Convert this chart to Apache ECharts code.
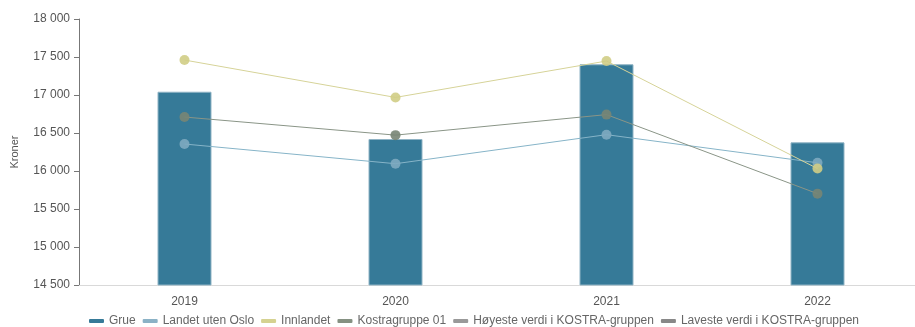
<!DOCTYPE html>
<html>
<head>
<meta charset="utf-8">
<script src="https://cdn.jsdelivr.net/npm/echarts@6/dist/echarts.min.js"></script>
<style>
html,body{margin:0;padding:0;overflow:hidden;background:#fff;width:915px;height:327px;}
#c{width:923px;height:327px;}
</style>
</head>
<body>
<div id="c"></div>
<script>
const categories = ['2019', '2020', '2021', '2022'];
const grue = [17043, 16421, 17404, 16377];
const landetUtenOslo = [16355, 16096, 16478, 16108];
const innlandet = [17460, 16968, 17447, 16032];
const kostragruppe01 = [16710, 16472, 16742, 15702];
const hoyeste = [];
const laveste = [];
const yMin = 14500, yMax = 18000, yStep = 500;

const chart = echarts.init(document.getElementById('c'));
function fmt(v){ return String(v).replace(/\B(?=(\d{3})+(?!\d))/g, ' '); }
const FONT = 'Liberation Sans, Arial, sans-serif';
function lineSeries(name, data, lineColor, markColor){
  return {
    name: name, type: 'line', data: data,
    symbol: 'circle', symbolSize: 10,
    lineStyle: {color: lineColor, width: 1},
    itemStyle: {color: markColor, opacity: 0.9},
    emphasis: {disabled: true},
    animation: false
  };
}
chart.setOption({
  animation: false,
  grid: {left: 79, right: 0, top: 19, bottom: 42, containLabel: false},
  legend: {
    left: 84, top: 310,
    itemWidth: 15, itemHeight: 4, itemGap: 7,
    icon: 'roundRect',
    itemStyle: {borderWidth: 0},
    textStyle: {color: '#666', fontSize: 12, fontFamily: FONT},
    data: ['Grue', 'Landet uten Oslo', 'Innlandet', 'Kostragruppe 01', 'Høyeste verdi i KOSTRA-gruppen', 'Laveste verdi i KOSTRA-gruppen']
  },
  xAxis: {
    type: 'category', data: categories,
    axisLine: {lineStyle: {color: '#d9d9d9', width: 1}},
    axisTick: {show: false},
    axisLabel: {color: '#555', fontSize: 12, margin: 11, fontFamily: FONT}
  },
  yAxis: {
    type: 'value', min: yMin, max: yMax, interval: yStep,
    name: 'Kroner', nameLocation: 'middle', nameGap: 59,
    nameTextStyle: {color: '#555', fontSize: 11, fontFamily: FONT},
    axisLine: {show: true, lineStyle: {color: '#777', width: 1}},
    axisTick: {show: true, length: 5, lineStyle: {color: '#777'}},
    splitLine: {show: false},
    axisLabel: {color: '#555', fontSize: 12, margin: 9, formatter: fmt, fontFamily: FONT}
  },
  series: [
    {
      name: 'Grue', type: 'bar', data: grue, barWidth: 54,
      itemStyle: {color: '#367a98', borderColor: '#8fb3c4', borderWidth: 1},
      emphasis: {disabled: true}
    },
    lineSeries('Landet uten Oslo', landetUtenOslo, '#86b4c8', '#7eaac0'),
    lineSeries('Innlandet', innlandet, '#d6d398', '#d0cd85'),
    lineSeries('Kostragruppe 01', kostragruppe01, '#8a9587', '#788574'),
    {name: 'Høyeste verdi i KOSTRA-gruppen', type: 'line', data: hoyeste, itemStyle: {color: '#999'}, lineStyle: {color: '#999'}},
    {name: 'Laveste verdi i KOSTRA-gruppen', type: 'line', data: laveste, itemStyle: {color: '#888'}, lineStyle: {color: '#888'}}
  ]
});
</script>
</body>
</html>
